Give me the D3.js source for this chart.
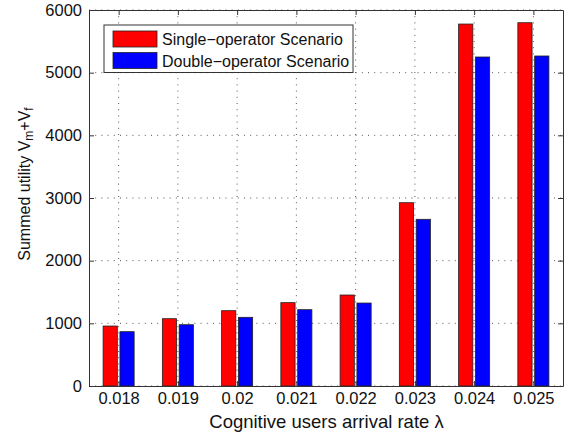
<!DOCTYPE html>
<html>
<head>
<meta charset="utf-8">
<script src="https://cdn.jsdelivr.net/npm/d3@7"></script>
<style>
  html, body { margin: 0; padding: 0; background: #fff; }
  svg { display: block; font-family: "Liberation Sans", Arial, Helvetica, sans-serif; }
</style>
</head>
<body>
<svg id="chart" width="571" height="438"></svg>
<script>
// Arrival rates and summed utility for the two scenarios
const categories = ["0.018", "0.019", "0.02", "0.021", "0.022", "0.023", "0.024", "0.025"];
const singleOperator = [957, 1074, 1202, 1330, 1452, 2925, 5776, 5797];
const doubleOperator = [867, 978, 1096, 1218, 1324, 2660, 5250, 5266];
const yTicks = [0, 1000, 2000, 3000, 4000, 5000, 6000];
const seriesNames = ["Single\u2212operator Scenario", "Double\u2212operator Scenario"];
const seriesColors = ["#ff0000", "#0000ff"];

const svg = d3.select("#chart");
const plot = { left: 89, right: 563, top: 10, bottom: 386 };

// Category positions 1..n on a continuous scale, like a [0.5, n+0.5] axis
const x = d3.scaleLinear()
  .domain([0.5, categories.length + 0.5])
  .range([plot.left, plot.right]);
const y = d3.scaleLinear().domain([0, 6000]).range([plot.bottom, plot.top]);

const barWidth = 0.24;
const offset = 0.142;

// Dotted grid
const grid = svg.append("g").attr("stroke", "#444").attr("stroke-width", 0.9)
  .attr("stroke-dasharray", "1,5.2");
categories.forEach((c, i) => {
  grid.append("line").attr("x1", x(i + 1)).attr("x2", x(i + 1))
    .attr("y1", plot.top).attr("y2", plot.bottom);
});
yTicks.forEach(t => {
  grid.append("line").attr("x1", plot.left).attr("x2", plot.right)
    .attr("y1", y(t)).attr("y2", y(t));
});

// Bars
const series = [singleOperator, doubleOperator];
series.forEach((vals, s) => {
  svg.append("g").selectAll("rect").data(vals).join("rect")
    .attr("x", (d, i) => x(i + 1 + (s === 0 ? -offset : offset) - barWidth / 2))
    .attr("width", x(barWidth) - x(0))
    .attr("y", d => y(d))
    .attr("height", d => y(0) - y(d))
    .attr("fill", seriesColors[s])
    .attr("stroke", "#222")
    .attr("stroke-width", 0.8);
});

// Axes (box with inward ticks on all sides)
const tickLen = 5;
const axisColor = "#333";
const xBottom = d3.axisBottom(x).tickValues(d3.range(1, categories.length + 1))
  .tickFormat(d => categories[d - 1]).tickSizeInner(-tickLen).tickSizeOuter(0).tickPadding(6.5);
const xTop = d3.axisTop(x).tickValues(d3.range(1, categories.length + 1))
  .tickFormat("").tickSizeInner(-tickLen).tickSizeOuter(0);
const yLeft = d3.axisLeft(y).tickValues(yTicks).tickFormat(d3.format("d"))
  .tickSizeInner(-tickLen).tickSizeOuter(0).tickPadding(7);
const yRight = d3.axisRight(y).tickValues(yTicks).tickFormat("")
  .tickSizeInner(-tickLen).tickSizeOuter(0);

function styleAxis(g) {
  g.selectAll("path").attr("stroke", axisColor).attr("stroke-width", 1);
  g.selectAll("line").attr("stroke", axisColor).attr("stroke-width", 1);
  g.selectAll("text").attr("fill", "#111").style("font-size", "16.5px")
    .style("font-family", "'Liberation Sans', Arial, sans-serif");
}
svg.append("g").attr("transform", `translate(0,${plot.bottom})`).call(xBottom).call(styleAxis);
svg.append("g").attr("transform", `translate(0,${plot.top})`).call(xTop).call(styleAxis);
svg.append("g").attr("transform", `translate(${plot.left},0)`).call(yLeft).call(styleAxis);
svg.append("g").attr("transform", `translate(${plot.right},0)`).call(yRight).call(styleAxis);

// Axis titles
svg.append("text")
  .attr("x", 326.5).attr("y", 427.5)
  .attr("text-anchor", "middle").attr("fill", "#111")
  .style("font-size", "18.5px")
  .text("Cognitive users arrival rate \u03bb");

const yTitle = svg.append("text")
  .attr("transform", `translate(30,184) rotate(-90)`)
  .attr("text-anchor", "middle").attr("fill", "#111")
  .style("font-size", "16px");
yTitle.append("tspan").text("Summed utility V");
yTitle.append("tspan").attr("baseline-shift", "-25%").style("font-size", "12px").text("m");
yTitle.append("tspan").text("+V");
yTitle.append("tspan").attr("baseline-shift", "-25%").style("font-size", "12px").text("f");

// Legend
const legend = svg.append("g");
legend.append("rect").attr("x", 104).attr("y", 25).attr("width", 249).attr("height", 47.5)
  .attr("fill", "#fff").attr("stroke", "#333").attr("stroke-width", 1);
seriesNames.forEach((name, i) => {
  const ly = 31 + i * 21.5;
  legend.append("rect").attr("x", 113).attr("y", ly).attr("width", 44).attr("height", 16)
    .attr("fill", seriesColors[i]).attr("stroke", "#222").attr("stroke-width", 0.8);
  legend.append("text").attr("x", 162).attr("y", ly + 14)
    .attr("fill", "#111").style("font-size", "16px").text(name);
});
</script>
</body>
</html>
